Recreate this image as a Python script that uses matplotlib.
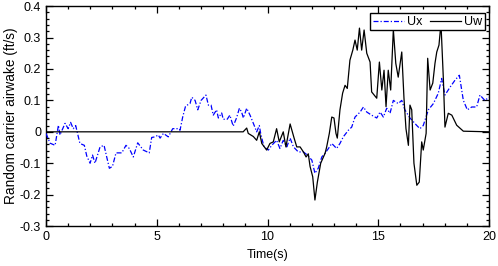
import matplotlib
matplotlib.use("Agg")
import matplotlib.pyplot as plt
from matplotlib.ticker import MultipleLocator

plt.rcParams['font.family'] = ['Liberation Sans', 'DejaVu Sans']

ux_t = [0.0, 0.18, 0.41, 0.56, 0.63, 0.86, 1.0, 1.11, 1.23, 1.34, 1.53, 1.73, 1.84, 1.99, 2.1, 2.21,
        2.44, 2.62, 2.74, 2.86, 3.0, 3.16, 3.42, 3.61, 3.76, 3.94, 4.14, 4.39, 4.66, 4.77, 4.92, 5.07,
        5.15, 5.3, 5.52, 5.72, 5.97, 6.05, 6.17, 6.3, 6.5, 6.58, 6.73, 6.85, 7.0, 7.22, 7.33, 7.45,
        7.55, 7.7, 7.78, 7.93, 8.0, 8.18, 8.3, 8.45, 8.6, 8.73, 8.83, 8.91, 9.06, 9.21, 9.36, 9.51,
        9.63, 9.69, 9.84, 10.04, 10.19, 10.41, 10.56, 10.71, 10.87, 11.02, 11.17, 11.39, 11.62, 11.8,
        12.0, 12.14, 12.29, 12.45, 12.6, 12.75, 12.9, 13.12, 13.27, 13.42, 13.65, 13.8, 13.95, 14.18,
        14.33, 14.48, 14.7, 14.93, 15.08, 15.23, 15.38, 15.53, 15.68, 15.9, 16.06, 16.2, 16.43, 16.74,
        16.88, 17.03, 17.26, 17.49, 17.71, 17.86, 18.01, 18.24, 18.47, 18.66, 18.84, 19.02, 19.22,
        19.44, 19.59, 19.81, 20.0]
ux_v = [-0.005, -0.036, -0.043, 0.021, -0.01, 0.027, 0.01, 0.03, 0.01, 0.02, -0.037, -0.043, -0.077,
        -0.1, -0.074, -0.1, -0.048, -0.043, -0.08, -0.116, -0.11, -0.067, -0.067, -0.043, -0.053,
        -0.08, -0.035, -0.058, -0.067, -0.018, -0.016, -0.01, -0.02, -0.005, -0.016, 0.01, 0.01, 0.005,
        0.047, 0.082, 0.09, 0.11, 0.1, 0.07, 0.1, 0.117, 0.085, 0.085, 0.053, 0.07, 0.044, 0.06, 0.04,
        0.04, 0.053, 0.018, 0.044, 0.075, 0.063, 0.044, 0.075, 0.053, 0.027, 0.0, 0.02, -0.005,
        -0.048, -0.058, -0.043, -0.027, -0.053, -0.027, -0.048, -0.02, -0.048, -0.064, -0.064, -0.074,
        -0.09, -0.132, -0.116, -0.08, -0.068, -0.053, -0.037, -0.053, -0.037, -0.016, 0.005, 0.015,
        0.047, 0.063, 0.079, 0.063, 0.053, 0.044, 0.063, 0.047, 0.075, 0.059, 0.1, 0.09, 0.1, 0.07,
        0.044, 0.02, 0.01, 0.02, 0.07, 0.09, 0.123, 0.17, 0.117, 0.142, 0.165, 0.18, 0.1, 0.07, 0.079,
        0.079, 0.117, 0.1, 0.11]

uw_t = [0.0, 8.9, 9.06, 9.13, 9.36, 9.51, 9.63, 9.74, 9.96, 10.11, 10.26, 10.41, 10.53, 10.71, 10.83,
        11.02, 11.2, 11.32, 11.47, 11.62, 11.74, 11.84, 11.92, 12.04, 12.14, 12.25, 12.4, 12.6, 12.67,
        12.79, 12.9, 13.0, 13.09, 13.15, 13.27, 13.39, 13.5, 13.6, 13.72, 13.85, 13.95, 14.05, 14.15,
        14.25, 14.36, 14.48, 14.63, 14.7, 14.93, 15.05, 15.16, 15.26, 15.35, 15.45, 15.56, 15.68,
        15.79, 15.9, 16.06, 16.16, 16.25, 16.36, 16.43, 16.51, 16.61, 16.74, 16.85, 16.96, 17.03,
        17.16, 17.23, 17.34, 17.46, 17.56, 17.64, 17.74, 17.83, 17.94, 18.01, 18.16, 18.32, 18.54,
        18.84, 20.0]
uw_v = [0.0, 0.0, 0.012, -0.005, -0.015, -0.027, 0.0, -0.037, -0.058, -0.037, -0.032, 0.01, -0.032,
        0.0, -0.048, 0.025, -0.02, -0.048, -0.048, -0.064, -0.08, -0.07, -0.11, -0.143, -0.217, -0.16,
        -0.1, -0.068, -0.048, -0.005, 0.047, 0.044, -0.005, -0.02, 0.07, 0.123, 0.148, 0.138, 0.228,
        0.26, 0.292, 0.26, 0.33, 0.26, 0.324, 0.25, 0.222, 0.127, 0.107, 0.222, 0.133, 0.196, 0.08,
        0.196, 0.133, 0.325, 0.218, 0.174, 0.254, 0.107, 0.01, -0.043, 0.085, 0.07, -0.1, -0.17, -0.16,
        -0.032, -0.058, -0.005, 0.234, 0.133, 0.155, 0.218, 0.254, 0.276, 0.345, 0.165, 0.015, 0.059,
        0.053, 0.021, 0.002, 0.0]

fig = plt.figure(figsize=(4.98, 2.66), dpi=100)
ax = fig.add_axes([0.0924, 0.150, 0.8896, 0.827])

ax.plot(ux_t, ux_v, color='#0000ff', linestyle=(0, (4, 1.6, 1, 1.6)), linewidth=0.9,
        label='Ux', zorder=3)
ax.plot(uw_t, uw_v, color='black', linestyle='-', linewidth=0.9, label='Uw', zorder=3)

ax.set_xlim(0, 20)
ax.set_ylim(-0.3, 0.4)
ax.xaxis.set_major_locator(MultipleLocator(5))
ax.xaxis.set_minor_locator(MultipleLocator(1))
ax.yaxis.set_major_locator(MultipleLocator(0.1))
ax.yaxis.set_minor_locator(MultipleLocator(0.02))
ax.tick_params(which='both', direction='in', top=True, right=True, labelsize=9, width=0.9)
ax.tick_params(which='major', length=5)
ax.tick_params(which='minor', length=2.5)
ax.set_yticks([-0.3, -0.2, -0.1, 0, 0.1, 0.2, 0.3, 0.4])
ax.set_yticklabels(['-0.3', '-0.2', '-0.1', '0', '0.1', '0.2', '0.3', '0.4'])
for s in ax.spines.values():
    s.set_linewidth(1.0)

ax.set_xlabel('Time(s)', fontsize=9, labelpad=4)
ax.set_ylabel('Random carrier airwake (ft/s)', fontsize=9.8, labelpad=1)

leg = ax.legend(loc='upper right', bbox_to_anchor=(0.991, 0.967), borderaxespad=0,
                ncol=2, fontsize=9, frameon=True, fancybox=False,
                edgecolor='black', framealpha=1, borderpad=0.2, handlelength=2.5,
                handletextpad=0.25, columnspacing=0.6)
leg.get_frame().set_linewidth(1.0)
leg.set_zorder(5)

fig.savefig('out.png', dpi=100)
